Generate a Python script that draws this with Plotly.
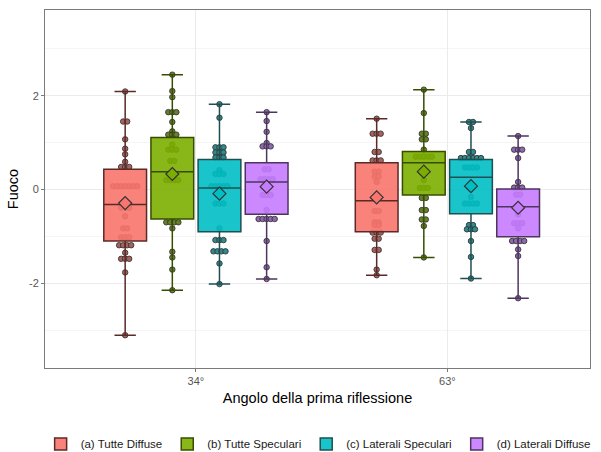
import plotly.graph_objects as go
from collections import Counter

categories = ["34°", "63°"]
cat_pos = [1, 2]
series_names = ["(a) Tutte Diffuse", "(b) Tutte Speculari", "(c) Laterali Speculari", "(d) Laterali Diffuse"]

# raw points per series, per category
pts_a_34 = [2.09, 1.45, 1.45, 1.07, 0.87, 0.75, 0.59, 0.48, 0.48, 0.48] + [0.07] * 7 + [-0.39] * 3 + [-0.57, -0.83, -0.83] + [-1.02] * 3 + [-1.19] * 4 + [-1.35] + [-1.48] * 3 + [-1.77, -3.11]
pts_b_34 = [2.45, 2.10, 1.97, 1.65, 1.65, 1.65, 1.44, 1.24, 1.17, 1.17, 1.17, 0.96, 0.85, 0.85, 0.85, 0.61, 0.61] + [0.20] * 4 + [-0.70] * 4 + [-0.83, -1.33, -1.45, -1.71, -2.15]
pts_c_34 = [1.82, 1.53] + [0.90] * 3 + [0.79] * 3 + [0.68] * 3 + [0.41] + [0.33] * 3 + [0.07] * 5 + [-0.30] * 3 + [-0.83] + [-1.08] * 3 + [-1.32] * 4 + [-1.58, -2.02]
pts_d_34 = [1.65, 1.46, 1.23, 0.99, 0.92, 0.92, 0.92, 0.43, 0.43] + [0.22] * 4 + [-0.12] * 3 + [-0.44] + [-0.63] * 5 + [-1.10, -1.66, -1.91]
pts_a_63 = [1.51, 1.19, 1.19, 1.19, 0.80, 0.80, 0.62, 0.62, 0.62, 0.38, 0.38, 0.27, 0.27, 0.16, -0.46, -0.46, -0.70, -0.70, -0.76, -0.76, -0.92, -0.92, -0.92, -1.05, -1.05, -1.29, -1.29, -1.71, -1.83]
pts_b_63 = [2.13, 1.63, 1.19, 1.19, 1.07, 1.07, 0.85] + [0.70] * 5 + [0.20, 0.03, 0.03, 0.03, -0.18, -0.18, -0.44, -0.44, -0.64, -0.64, -0.78, -1.45]
pts_c_63 = [1.44, 1.44, 1.31, 0.80, 0.80] + [0.67] * 6 + [0.47] * 4 + [-0.16] + [-0.30] * 4 + [-0.76, -0.76, -0.85, -0.85, -0.85, -1.10, -1.44, -1.90]
pts_d_63 = [1.14, 0.85, 0.85, 0.85, 0.67, 0.16, 0.04, 0.04, 0.04, -0.11, -0.11, -0.53, -0.72, -0.72, -0.72, -0.83] + [-1.10] * 4 + [-1.28, -1.42, -2.32]

points = [[pts_a_34, pts_a_63], [pts_b_34, pts_b_63], [pts_c_34, pts_c_63], [pts_d_34, pts_d_63]]

# box statistics per series: [34°, 63°]
q1 = [[-1.10, -0.90], [-0.63, -0.12], [-0.90, -0.52], [-0.53, -1.01]]
median = [[-0.32, -0.24], [0.38, 0.57], [0.03, 0.26], [0.16, -0.37]]
q3 = [[0.43, 0.57], [1.11, 0.81], [0.64, 0.64], [0.57, 0.01]]
lower = [[-3.11, -1.83], [-2.15, -1.45], [-2.02, -1.90], [-1.91, -2.32]]
upper = [[2.09, 1.51], [2.45, 2.13], [1.82, 1.44], [1.65, 1.14]]
means = [[-0.29, -0.17], [0.33, 0.38], [-0.09, 0.07], [0.06, -0.39]]

fill_colors = ["#F8766D", "#7CAE00", "#00BFC4", "#C77CFF"]
fill_rgba = ["rgba(248,118,109,0.9)", "rgba(124,174,0,0.9)", "rgba(0,191,196,0.9)", "rgba(199,124,255,0.9)"]
line_colors = ["#5c2a26", "#384d00", "#1f4f50", "#4e3560"]
dot_colors = ["#a8625e", "#65802a", "#32898b", "#9068ad"]

dodge = 0.1875
box_w = 0.17
dx = 0.016
XR = [0.4, 2.567]
YR = [-3.81, 3.83]

fig = go.Figure()

# dots on the base subplot (drawn under the boxes)
for s in range(4):
    for c in range(2):
        vals = points[s][c]
        cnt = Counter(vals)
        seen = Counter()
        xs, ys = [], []
        center = cat_pos[c] + (s - 1.5) * dodge
        for v in vals:
            n = cnt[v]
            i = seen[v]
            seen[v] += 1
            xs.append(center + (i - (n - 1) / 2) * dx)
            ys.append(v)
        fig.add_trace(go.Scatter(
            x=xs, y=ys, mode="markers", showlegend=False, hoverinfo="skip",
            marker=dict(size=5.5, color=dot_colors[s], line=dict(color="#2b2b2b", width=0.8)),
        ))

# boxes on the overlaying subplot
for s in range(4):
    xs = [p + (s - 1.5) * dodge for p in cat_pos]
    fig.add_trace(go.Box(
        name=series_names[s], x=xs, xaxis="x2", yaxis="y2",
        q1=q1[s], median=median[s], q3=q3[s],
        lowerfence=lower[s], upperfence=upper[s],
        width=box_w, fillcolor=fill_rgba[s],
        line=dict(color=line_colors[s], width=1.5),
        boxpoints=False, showlegend=True,
    ))

# means
for s in range(4):
    xs = [p + (s - 1.5) * dodge for p in cat_pos]
    fig.add_trace(go.Scatter(
        x=xs, y=means[s], mode="markers", showlegend=False, hoverinfo="skip",
        xaxis="x2", yaxis="y2",
        marker=dict(symbol="diamond", size=10, color=fill_colors[s], line=dict(color="#333333", width=1.2)),
    ))

fig.update_layout(
    width=601, height=452,
    margin=dict(l=45, r=11, t=10, b=84, autoexpand=False),
    paper_bgcolor="white", plot_bgcolor="white",
    font=dict(family="Liberation Sans, Arial, sans-serif", color="#000000"),
    boxmode="overlay",
    legend=dict(orientation="h", x=-0.008, xanchor="left", y=-0.212, yanchor="middle",
                font=dict(size=11.5, color="#1a1a1a"), tracegroupgap=0),
    xaxis=dict(
        range=XR, tickmode="array", tickvals=cat_pos, ticktext=categories,
        showgrid=True, gridcolor="#ebebeb", gridwidth=1, zeroline=False,
        showline=True, linecolor="#7a7a7a", linewidth=1, mirror=True,
        ticks="outside", ticklen=3, tickcolor="#7a7a7a",
        tickfont=dict(size=11, color="#555555"),
        title=dict(text="Angolo della prima riflessione", font=dict(size=14.5, color="#000000"), standoff=6),
    ),
    yaxis=dict(
        range=YR, tickmode="array", tickvals=[-2, 0, 2], ticktext=["-2", "0", "2"],
        showgrid=True, gridcolor="#ebebeb", gridwidth=1, zeroline=False,
        minor=dict(tickmode="array", tickvals=[-3, -1, 1, 3], showgrid=True, gridcolor="#f5f5f5", ticks=""),
        showline=True, linecolor="#7a7a7a", linewidth=1, mirror=True,
        ticks="outside", ticklen=3, tickcolor="#7a7a7a",
        tickfont=dict(size=11, color="#555555"),
        title=dict(text="Fuoco", font=dict(size=14.5, color="#000000"), standoff=6),
    ),
    xaxis2=dict(overlaying="x", range=XR, visible=False, showgrid=False, zeroline=False),
    yaxis2=dict(overlaying="y", range=YR, visible=False, showgrid=False, zeroline=False),
)

fig.write_html("out.html", config={"displayModeBar": False},
               post_script="document.body.style.margin='0';")
